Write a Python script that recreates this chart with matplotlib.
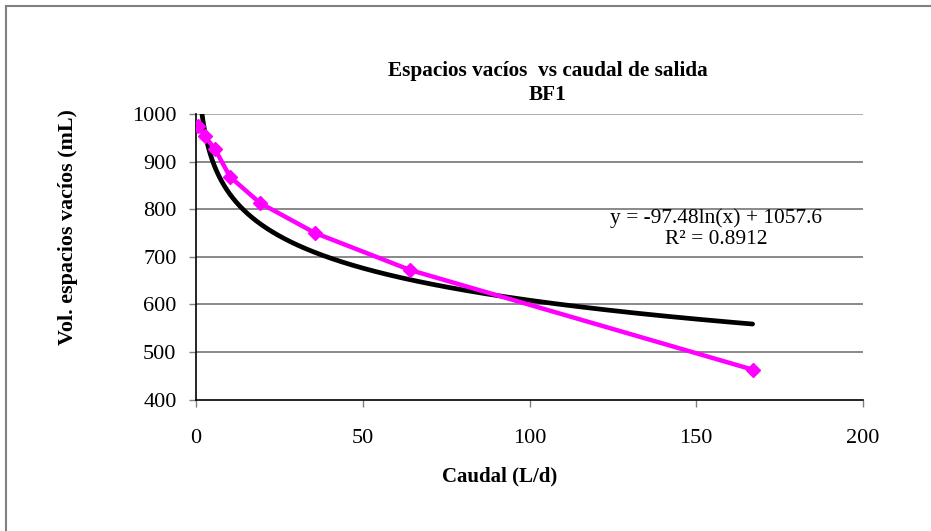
import numpy as np
import matplotlib.pyplot as plt
from matplotlib.lines import Line2D

# data (BF1)
caudal = [0.7, 2.7, 5.7, 10.2, 19.2, 35.7, 64.3, 166.9]
vol_vacios = [974, 953, 926, 868, 813, 750, 672, 463]

# logarithmic trendline from the chart: y = -97.48 ln(x) + 1057.6
coef_a = -97.48
coef_b = 1057.6
r2 = 0.8912

y_ticks = [400, 500, 600, 700, 800, 900, 1000]
x_ticks = [0, 50, 100, 150, 200]

plt.rcParams['font.family'] = ['Liberation Serif', 'DejaVu Serif']

W, H = 931, 531
fig = plt.figure(figsize=(W / 100, H / 100), dpi=100)
ax = fig.add_axes([196 / W, 1 - 399.6 / H, (863 - 196) / W, (399.6 - 114) / H])

# trend curve over the data range
xt = np.linspace(min(caudal), max(caudal), 600)
yt = coef_a * np.log(xt) + coef_b
ax.plot(xt, yt, color='black', lw=3.4, zorder=3, solid_capstyle='round')

ax.plot(caudal, vol_vacios, color='#FF00FF', lw=3.2, marker='D', markersize=7,
        markeredgecolor='#FF00FF', zorder=4)

ax.set_xlim(0, 200)
ax.set_ylim(400, 1000)
ax.set_xticks(x_ticks)
ax.set_yticks(y_ticks)
ax.tick_params(axis='both', labelsize=16, direction='out', length=5, width=1,
               color='#808080')
ax.tick_params(axis='x', pad=16)
ax.tick_params(axis='y', pad=9)

for v in y_ticks[1:]:
    ax.axhline(v, color='#808080' if v < 1000 else '#a6a6a6', lw=1.3, zorder=1)

ax.spines['top'].set_visible(False)
ax.spines['right'].set_visible(False)
ax.spines['left'].set_linewidth(1.2)
ax.spines['bottom'].set_linewidth(1.2)

# axis titles
fig.text(500 / W, 1 - 476 / H, 'Caudal (L/d)', ha='center', va='center',
         fontsize=15, fontweight='bold')
fig.text(68 / W, 1 - 227 / H, 'Vol. espacios vacíos (mL)', ha='center', va='center',
         rotation=90, fontsize=15.8, fontweight='bold')

fig.text(548 / W, 1 - 83 / H, 'Espacios vacíos  vs caudal de salida\nBF1',
         ha='center', va='center', fontsize=15.3, fontweight='bold', linespacing=1.3)

fig.text(716 / W, 1 - 229 / H,
         'y = %.2fln(x) + %.1f\nR² = %.4f' % (coef_a, coef_b, r2),
         ha='center', va='center', fontsize=15.4, linespacing=1.15)

# outer chart frame (only top and left visible)
fig.add_artist(Line2D([6 / W, 1], [1 - 6 / H, 1 - 6 / H], color='#808080', lw=1.5))
fig.add_artist(Line2D([6 / W, 6 / W], [0, 1 - 6 / H], color='#808080', lw=1.5))

fig.savefig('out.png', dpi=100)
